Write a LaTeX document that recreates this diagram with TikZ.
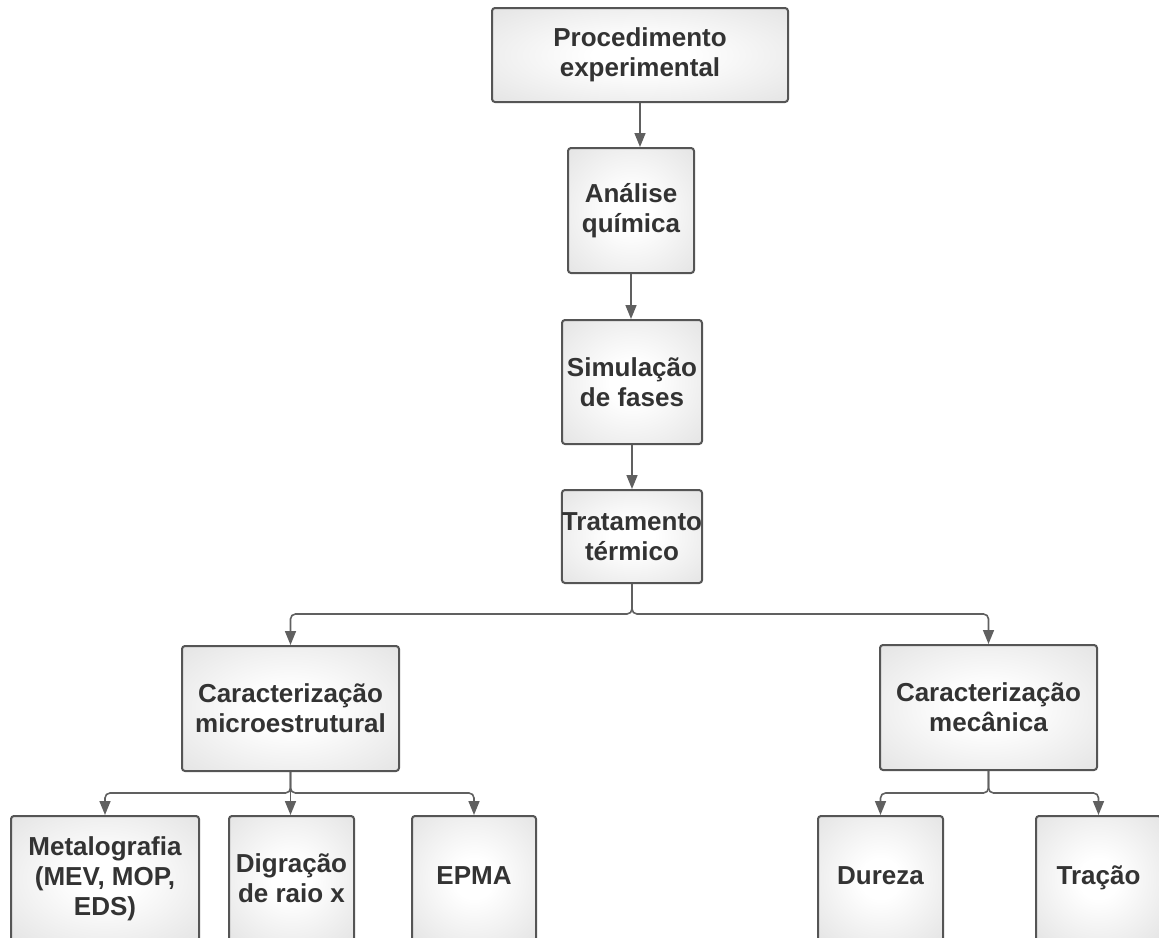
\documentclass[tikz,border=0pt]{standalone}
\usepackage{fontspec}
\setmainfont{Liberation Sans}
\usepackage{tikz}
\usetikzlibrary{arrows.meta}

\definecolor{textogris}{HTML}{333333}
\definecolor{bordagris}{HTML}{555555}
\definecolor{linhagris}{HTML}{606060}
\pgfdeclareradialshading{brilho}{\pgfpoint{0bp}{0bp}}{color(0bp)=(white); color(8bp)=(white); color(50bp)=(black!16); color(72bp)=(black!22)}

\begin{document}
\begin{tikzpicture}[x=1pt,y=-1pt,
  etapa/.style={draw=bordagris, line width=2pt, shading=brilho, rounded corners=3pt,
    inner sep=0pt, align=center, text=textogris,
    font=\bfseries\fontsize{26}{30}\selectfont, minimum height=125pt},
  seta/.style={draw=linhagris, line width=1.6pt, -{Triangle[length=14pt,width=11pt]}},
  ramo/.style={seta, rounded corners=5pt}]
\clip (0,0) rectangle (1159,937);
%etapas principais
\node[etapa, minimum width=296pt, minimum height=94pt] (proc) at (640,55) {Procedimento\\experimental};
\node[etapa, minimum width=126pt] (quimica) at (631,210.5) {Análise\\química};
\node[etapa, minimum width=140pt, minimum height=124pt] (fases) at (632,382) {Simulação\\de fases};
\node[etapa, minimum width=140pt, minimum height=93pt] (tratamento) at (632,536.5) {Tratamento\\térmico};
\node[etapa, minimum width=217pt] (microestr) at (290.5,708.5) {Caracterização\\microestrutural};
\node[etapa, minimum width=217pt] (mecanica) at (988.5,707.5) {Caracterização\\mecânica};
%ensaios
\node[etapa, minimum width=188pt] (metalografia) at (105,878.5) {Metalografia\\(MEV, MOP,\\EDS)};
\node[etapa, minimum width=125pt] (raiox) at (291.5,878.5) {Digração\\de raio x};
\node[etapa, minimum width=124pt] (epma) at (474,878.5) {\strut EPMA};
\node[etapa, minimum width=125pt] (dureza) at (880.5,878.5) {\strut Dureza};
\node[etapa, minimum width=125pt] (tracao) at (1098.5,878.5) {\strut Tração};
%ligacoes
\draw[seta] (proc.south) -- (proc.south |- quimica.north);
\draw[seta] (quimica.south) -- (quimica.south |- fases.north);
\draw[seta] (fases.south) -- (fases.south |- tratamento.north);
\coordinate (r1) at (632,614);
\draw[ramo] (tratamento.south) -- (r1) -| (microestr.north);
\draw[ramo] (tratamento.south) -- (r1) -| (mecanica.north);
\coordinate (r2) at (290.5,793);
\draw[ramo] (microestr.south) -- (r2) -| (metalografia.north);
\draw[seta] (microestr.south) -- (microestr.south |- raiox.north);
\draw[ramo] (microestr.south) -- (r2) -| (epma.north);
\coordinate (r3) at (988.5,793);
\draw[ramo] (mecanica.south) -- (r3) -| (dureza.north);
\draw[ramo] (mecanica.south) -- (r3) -| (tracao.north);
\end{tikzpicture}
\end{document}
